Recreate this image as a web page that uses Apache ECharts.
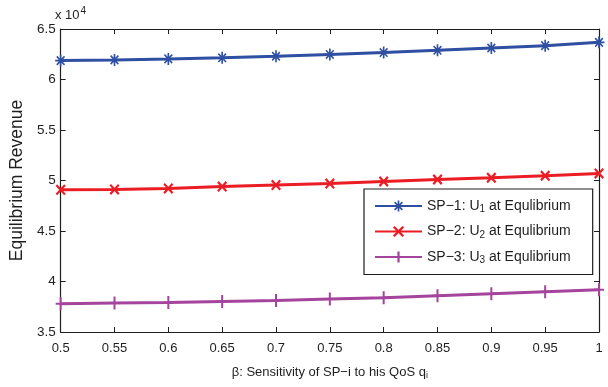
<!DOCTYPE html>
<html>
<head>
<meta charset="utf-8">
<script src="https://cdn.jsdelivr.net/npm/echarts@6/dist/echarts.min.js"></script>
<style>
    html, body { margin: 0; padding: 0; background: #fff; }
    #chart { width: 608px; height: 387px; }
</style>
</head>
<body>
<div id="chart"></div>
<script>
// sensitivity beta
const betas = [0.5, 0.55, 0.6, 0.65, 0.7, 0.75, 0.8, 0.85, 0.9, 0.95, 1];
// equilibrium revenue of each SP
const sp1 = [61870, 61940, 62040, 62150, 62300, 62480, 62670, 62890, 63120, 63350, 63680];
const sp2 = [49080, 49120, 49220, 49400, 49550, 49700, 49900, 50100, 50270, 50470, 50700];
const sp3 = [37800, 37870, 37930, 38030, 38120, 38260, 38390, 38590, 38780, 38980, 39180];
const legendNames = ['SP-1', 'SP-2', 'SP-3'];
const legendSubs = ['1', '2', '3'];

const FONT = '"Liberation Sans", Arial, Helvetica, sans-serif';
const AXIS_COLOR = '#1e1e1e';

const STAR = 'path://M8.5,0 h3 v20 h-3 z M0,8.5 h20 v3 h-20 z M2,4 L4,2 L18,16 L16,18 Z M16,2 L18,4 L4,18 L2,16 Z';
const CROSS = 'path://M0,3 L3,0 L20,17 L17,20 Z M17,0 L20,3 L3,20 L0,17 Z';
const PLUS = 'path://M8,0 h4 v20 h-4 z M0,8.5 h20 v3 h-20 z';

const pairs = ys => betas.map((b, i) => [b, ys[i]]);

const myChart = echarts.init(document.getElementById('chart'));

const axisCommon = {
    axisLine: { show: true, onZero: false, lineStyle: { color: AXIS_COLOR, width: 1.2 } },
    axisTick: { show: true, inside: true, length: 5, lineStyle: { color: AXIS_COLOR, width: 1 } },
    splitLine: { show: false },
};

const makeSeries = (idx, data, color, symbol, size) => ({
    name: legendNames[idx],
    type: 'line',
    data: pairs(data),
    symbol: symbol,
    symbolSize: size,
    showAllSymbol: true,
    lineStyle: { color: color, width: 3 },
    itemStyle: { color: color },
    emphasis: { disabled: true },
    z: 3 - idx,
});

myChart.setOption({
    animation: false,
    backgroundColor: '#fff',
    grid: { left: 56, right: 9, top: 29, bottom: 55 },
    xAxis: [
        {
            type: 'value',
            min: 0.5,
            max: 1,
            interval: 0.05,
            ...axisCommon,
            axisLabel: {
                color: '#1e1e1e',
                fontFamily: FONT,
                fontSize: 13,
                margin: 10,
                formatter: v => String(+v.toFixed(2)),
            },
            name: '{a|β: Sensitivity of SP−i to his QoS q}{s|i}',
            nameLocation: 'middle',
            nameGap: 32,
            nameTextStyle: {
                rich: {
                    a: { fontFamily: FONT, fontSize: 13, color: '#1e1e1e' },
                    s: { fontFamily: FONT, fontSize: 9, color: '#1e1e1e', padding: [7, 0, 0, 0] },
                },
            },
        },
        {
            type: 'value',
            position: 'top',
            min: 0.5,
            max: 1,
            interval: 0.05,
            ...axisCommon,
            axisLabel: { show: false },
        },
    ],
    yAxis: [
        {
            type: 'value',
            min: 35000,
            max: 65000,
            interval: 5000,
            ...axisCommon,
            axisLabel: {
                color: '#1e1e1e',
                fontFamily: FONT,
                fontSize: 13.5,
                margin: 5,
                formatter: v => String(v / 10000),
            },
            name: 'Equilibrium Revenue',
            nameLocation: 'middle',
            nameGap: 23,
            nameRotate: 90,
            nameTextStyle: { fontFamily: FONT, fontSize: 17.5, color: '#1e1e1e' },
        },
        {
            type: 'value',
            position: 'right',
            min: 35000,
            max: 65000,
            interval: 5000,
            ...axisCommon,
            axisLabel: { show: false },
        },
    ],
    legend: {
        orient: 'vertical',
        left: 364,
        top: 189,
        itemWidth: 47,
        itemHeight: 14,
        itemGap: 10,
        padding: [10, 22, 9, 10],
        backgroundColor: '#fff',
        borderColor: '#1e1e1e',
        borderWidth: 1.2,
        borderRadius: 0,
        selectedMode: false,
        data: legendNames,
        formatter: name => {
            const i = legendNames.indexOf(name);
            return '{a|SP−' + (i + 1) + ': U}{s|' + legendSubs[i] + '}{a| at Equlibrium}';
        },
        textStyle: {
            rich: {
                a: { fontFamily: FONT, fontSize: 14, color: '#1e1e1e' },
                s: { fontFamily: FONT, fontSize: 10, color: '#1e1e1e', padding: [7, 0, 0, 0] },
            },
        },
    },
    graphic: [
        {
            type: 'text',
            left: 55,
            top: 6,
            style: {
                text: '{a|x 10}{p|4}',
                rich: {
                    a: { fontFamily: FONT, fontSize: 13, fill: '#1e1e1e' },
                    p: { fontFamily: FONT, fontSize: 10, fill: '#1e1e1e', padding: [0, 0, 9, 1] },
                },
            },
        },
    ],
    series: [
        makeSeries(0, sp1, '#2f4fa2', STAR, [11, 12]),
        makeSeries(1, sp2, '#ec1c24', CROSS, [10, 11]),
        makeSeries(2, sp3, '#a5449c', PLUS, [10, 13]),
    ],
});

window.addEventListener('resize', function() {
    myChart.resize();
});
</script>
</body>
</html>
